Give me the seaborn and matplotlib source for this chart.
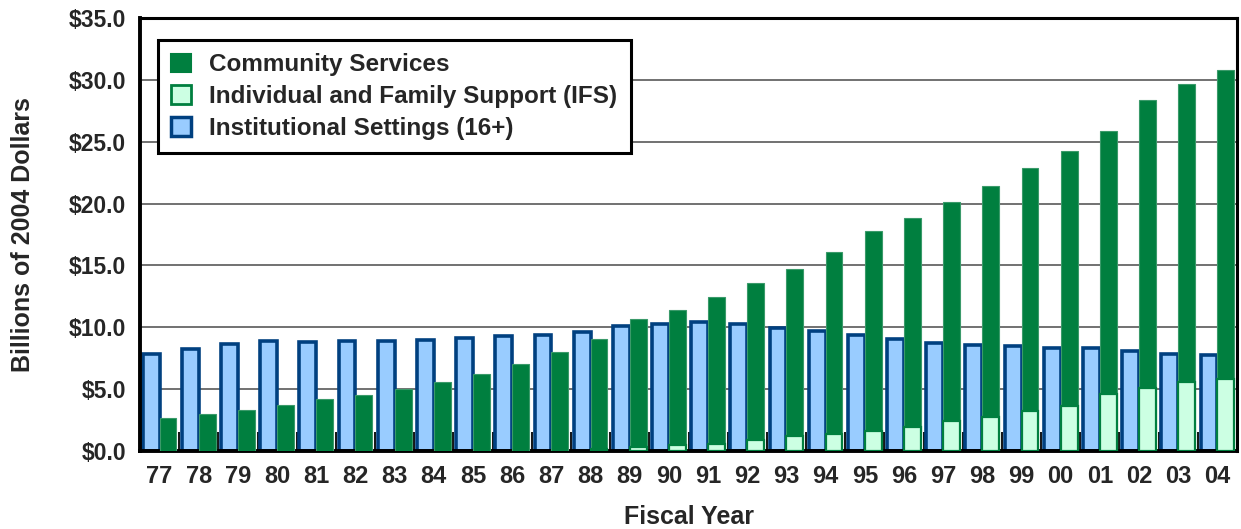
import matplotlib
matplotlib.use("Agg")
import matplotlib.pyplot as plt
import seaborn as sns
import pandas as pd
from matplotlib.patches import Patch
from matplotlib.ticker import FixedLocator, FuncFormatter

years = ["77", "78", "79", "80", "81", "82", "83", "84", "85", "86", "87", "88", "89", "90",
         "91", "92", "93", "94", "95", "96", "97", "98", "99", "00", "01", "02", "03", "04"]
institutional = [7.85, 8.25, 8.65, 8.9, 8.8, 8.9, 8.9, 9.0, 9.15, 9.3, 9.4, 9.6, 10.1, 10.3,
                 10.45, 10.3, 9.95, 9.7, 9.4, 9.05, 8.75, 8.6, 8.45, 8.3, 8.3, 8.1, 7.85, 7.8]
community = [2.65, 3.0, 3.3, 3.7, 4.2, 4.5, 5.0, 5.6, 6.2, 7.0, 8.0, 9.05, 10.7, 11.4,
             12.45, 13.55, 14.75, 16.1, 17.75, 18.8, 20.1, 21.45, 22.85, 24.25, 25.9, 28.4, 29.7, 30.8]
ifs = [0, 0, 0, 0, 0, 0, 0, 0, 0, 0, 0, 0.2, 0.35, 0.45,
       0.6, 0.9, 1.2, 1.4, 1.6, 1.95, 2.45, 2.75, 3.25, 3.65, 4.6, 5.1, 5.6, 5.8]

C_INST_FILL = "#99CCFF"
C_INST_EDGE = "#004080"
C_COMM = "#007F3F"
C_IFS = "#CCFFE3"

sns.set_theme(style="white")
plt.rcParams["font.family"] = ["Liberation Sans", "DejaVu Sans"]
plt.rcParams["font.weight"] = "bold"

df = pd.DataFrame({
    "year": years * 2,
    "value": institutional + community,
    "series": ["Institutional"] * len(years) + ["Community"] * len(years),
})
df_ifs = pd.DataFrame({"year": years, "value": ifs, "series": "Community"})
df_ifs = df_ifs[df_ifs["value"] > 0]

fig = plt.figure(figsize=(12.41, 5.29), dpi=100)
ax = fig.add_axes([140 / 1241, 1 - 451 / 529, 1097 / 1241, 433 / 529])

hue_order = ["Institutional", "Community"]
sns.barplot(data=df, x="year", y="value", hue="series", hue_order=hue_order, order=years,
            palette={"Institutional": C_INST_FILL, "Community": C_COMM},
            width=0.86, gap=0, dodge=True, ax=ax, legend=False, errorbar=None,
            saturation=1)
sns.barplot(data=df_ifs, x="year", y="value", hue="series", hue_order=hue_order, order=years,
            palette={"Institutional": C_INST_FILL, "Community": C_IFS},
            width=0.86, dodge=True, ax=ax, legend=False, errorbar=None, saturation=1)

n = len(years)
for i, p in enumerate(ax.patches):
    if i < n:
        p.set_edgecolor(C_INST_EDGE)
        p.set_linewidth(2.6)
        p.set_zorder(2)
    elif i < 2 * n:
        p.set_edgecolor("#3a9a6a")
        p.set_linewidth(0.8)
        p.set_zorder(3)
    else:
        p.set_edgecolor(C_COMM)
        p.set_linewidth(1.6)
        p.set_zorder(4)

ax.set_xlim(-0.5, n - 0.5)
ax.set_ylim(0, 35)
ax.yaxis.set_major_locator(FixedLocator([0, 5, 10, 15, 20, 25, 30, 35]))
ax.yaxis.set_major_formatter(FuncFormatter(lambda v, _: f"${v:.1f}"))
ax.grid(axis="y", color="#666666", linewidth=1.3)
ax.set_axisbelow(True)

ax.xaxis.set_minor_locator(FixedLocator([i + 0.5 for i in range(n - 1)]))
ax.tick_params(axis="x", which="minor", direction="in", length=14, width=1.3, color="black",
               bottom=True)
ax.tick_params(axis="x", which="major", length=0, pad=10, labelsize=17)
ax.tick_params(axis="y", which="major", length=0, pad=10, labelsize=16.5)
for lab in ax.get_xticklabels() + ax.get_yticklabels():
    lab.set_fontweight("bold")

for s in ax.spines.values():
    s.set_visible(True)
    s.set_color("black")
    s.set_linewidth(2.2)
ax.spines["left"].set_linewidth(2.8)
ax.spines["bottom"].set_linewidth(2.8)

ax.set_xlabel("Fiscal Year", fontsize=18, fontweight="bold", labelpad=12)
ax.set_ylabel("Billions of 2004 Dollars", fontsize=18, fontweight="bold", labelpad=24)

handles = [
    Patch(facecolor=C_COMM, edgecolor=C_COMM, linewidth=1.5, label="Community Services"),
    Patch(facecolor=C_IFS, edgecolor=C_COMM, linewidth=2.0, label="Individual and Family Support (IFS)"),
    Patch(facecolor=C_INST_FILL, edgecolor=C_INST_EDGE, linewidth=2.5, label="Institutional Settings (16+)"),
]
leg = ax.legend(handles=handles, loc="upper left", bbox_to_anchor=(0.0164, 0.949),
                borderaxespad=0, frameon=True, fancybox=False, fontsize=17.5,
                handlelength=0.8, handleheight=0.8, handletextpad=0.75,
                labelspacing=0.36, borderpad=0.55, edgecolor="black")
leg.get_frame().set_linewidth(2.2)
leg.get_frame().set_alpha(1)
for t in leg.get_texts():
    t.set_fontweight("bold")
leg.set_zorder(10)

fig.savefig("out.png", dpi=100)
